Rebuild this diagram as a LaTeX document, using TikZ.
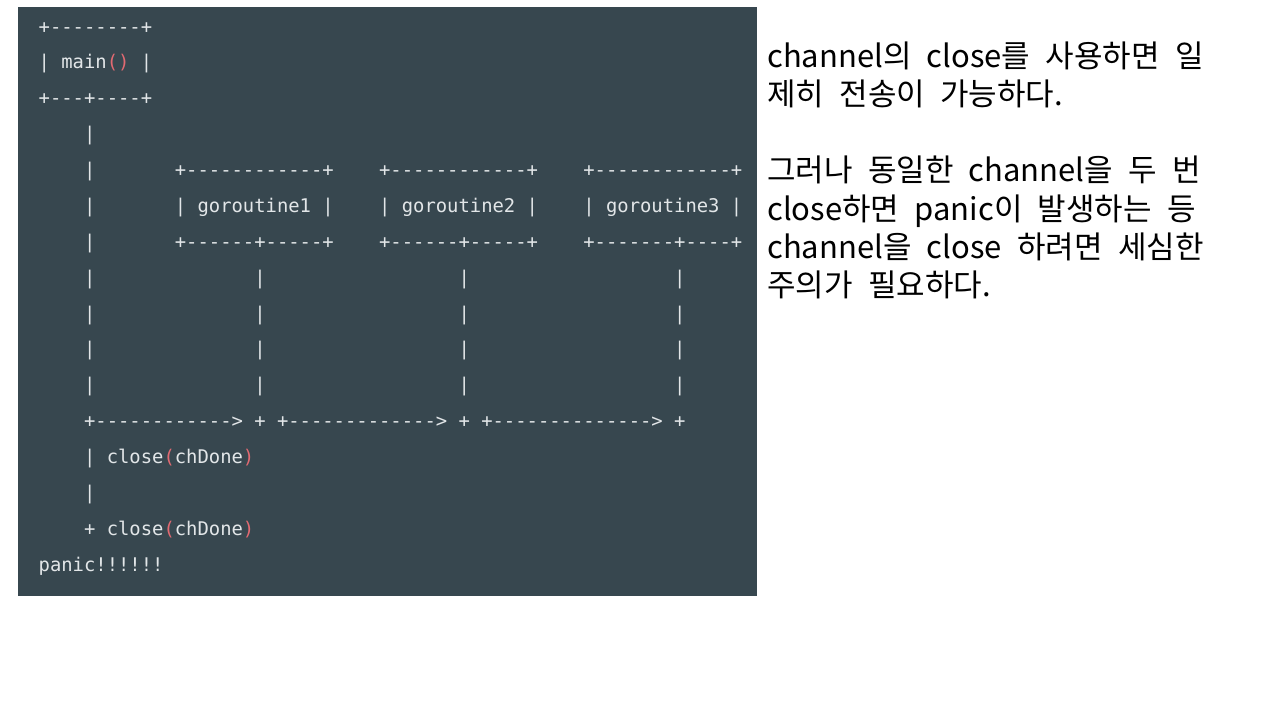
\documentclass[tikz,border=0pt]{standalone}
\usepackage{fontspec}
\setmonofont{DejaVu Sans Mono}
\newfontfamily\krfont[WordSpace=2.2]{Noto Sans CJK KR}
\definecolor{slate}{RGB}{55,71,79}
\definecolor{codegray}{RGB}{226,230,232}
\definecolor{codered}{RGB}{226,106,114}
\newcommand{\rp}[1]{\textcolor{codered}{#1}}
\newcommand{\gap}[1]{\hspace*{#1\fontcharwd\font`x}}

\begin{document}
\begin{tikzpicture}[x=1pt,y=-1pt,
  code/.style={anchor=base west,inner sep=0pt,text=codegray,
    font=\ttfamily\fontsize{18.85}{22}\selectfont},
  note/.style={anchor=base west,inner sep=0pt,text=black,
    font=\krfont\fontsize{31}{38}\selectfont}]
   \useasboundingbox[fill=white] (0,0) rectangle (1280,720);
   \fill[slate] (18,7) rectangle (757,596);
   % ascii block
   \node[code] (r1)  at (38.5,33)    {+--------+};
   \node[code] (r2)  at (38.5,68.9)  {| main\rp{()} |};
   \node[code] (r3)  at (38.5,104.7) {+---+----+};
   \node[code] (r4)  at (38.5,140.6) {\gap{4}|};
   \node[code] (r5)  at (38.5,176.5) {\gap{4}|\gap{7}+------------+\gap{4}+------------+\gap{4}+------------+};
   \node[code] (r6)  at (38.5,212.4) {\gap{4}|\gap{7}| goroutine1 |\gap{4}| goroutine2 |\gap{4}| goroutine3 |};
   \node[code] (r7)  at (38.5,248.2) {\gap{4}|\gap{7}+------+-----+\gap{4}+------+-----+\gap{4}+-------+----+};
   \node[code] (r8)  at (38.5,284.1) {\gap{4}|\gap{14}|\gap{17}|\gap{18}|};
   \node[code] (r9)  at (38.5,320)   {\gap{4}|\gap{14}|\gap{17}|\gap{18}|};
   \node[code] (r10) at (38.5,355.8) {\gap{4}|\gap{14}|\gap{17}|\gap{18}|};
   \node[code] (r11) at (38.5,391.7) {\gap{4}|\gap{14}|\gap{17}|\gap{18}|};
   \node[code] (r12) at (38.5,427.6) {\gap{4}+------------> + +-------------> + +--------------> +};
   \node[code] (r13) at (38.5,463.4) {\gap{4}| close\rp{(}chDone\rp{)}};
   \node[code] (r14) at (38.5,499.3) {\gap{4}|};
   \node[code] (r15) at (38.5,535.2) {\gap{4}+ close\rp{(}chDone\rp{)}};
   \node[code] (r16) at (38.5,571)   {panic!!!!!!};
   % note on the right
   \node[note] (n1) at (767,67)  {channel의 close를 사용하면 일};
   \node[note] (n2) at (767,105) {제히 전송이 가능하다.};
   \node[note] (n3) at (767,181) {그러나 동일한 channel을 두 번};
   \node[note] (n4) at (767,220) {close하면 panic이 발생하는 등};
   \node[note] (n5) at (767,258) {channel을 close 하려면 세심한};
   \node[note] (n6) at (767,296) {주의가 필요하다.};
\end{tikzpicture}
\end{document}
